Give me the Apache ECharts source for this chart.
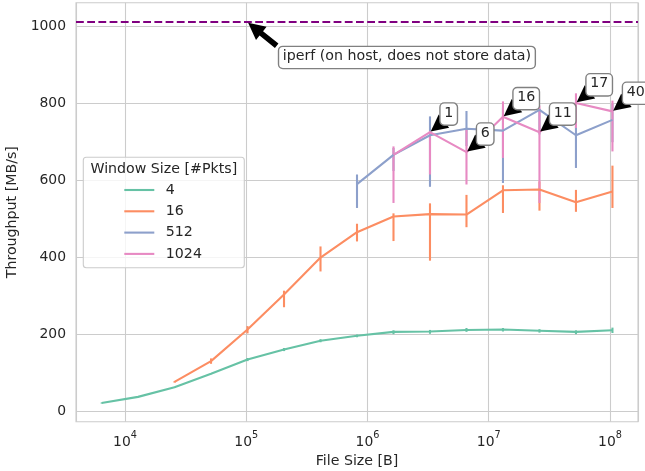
<!DOCTYPE html>
<html><head><meta charset="utf-8">
<script src="https://cdn.jsdelivr.net/npm/echarts@6/dist/echarts.min.js"></script>
<style>html,body{margin:0;padding:0;background:#fff}#c{width:645px;height:471px}</style>
</head><body><div id="c"></div>
<script>
// ---------------- data ----------------
const fileSizes = [6400, 12800, 25600, 51200, 102400, 204800, 409600, 819200, 1638400, 3276800, 6553600, 13107200, 26214400, 52428800, 104857600];

const win4Sizes = fileSizes.slice(0);
const win4Mean = [22, 38, 63, 98, 135, 161, 184, 197, 207, 208, 212, 213, 210, 207, 211];
const win4Lo   = [21, 37, 62, 97, 131, 157, 180, 193, 201, 202, 207, 208, 205, 201, 204];
const win4Hi   = [23, 39, 64, 99, 139, 165, 188, 200, 211, 212, 217, 217, 214, 211, 218];

const win16Sizes = fileSizes.slice(2);
const win16Mean = [77, 131, 213, 304, 400, 466, 507, 513, 512, 575, 577, 544, 572];
const win16Lo   = [75, 124, 203, 271, 364, 442, 443, 392, 479, 516, 522, 519, 529];
const win16Hi   = [79, 138, 222, 314, 429, 488, 515, 541, 563, 588, 598, 576, 639];

const win512Sizes = fileSizes.slice(7);
const win512Mean = [591, 667, 718, 735, 730, 784, 718, 758];
const win512Lo   = [529, 625, 584, 690, 594, 720, 633, 700];
const win512Hi   = [616, 685, 767, 781, 790, 787, 790, 800];

const win1024Sizes = fileSizes.slice(8);
const win1024Mean = [667, 726, 674, 766, 726, 802, 780];
const win1024Lo   = [542, 616, 590, 659, 542, 737, 676];
const win1024Hi   = [689, 729, 732, 806, 795, 827, 808];

const windowNames = ['4', '16', '512', '1024'];
const yTicks = [0, 200, 400, 600, 800, 1000];

const iperfThroughput = 1014;
const iperfText = 'iperf (on host, does not store data)';
const iperfArrowAt = [1e5, 1014];
const iperfTextAt = [2e5, 910];

const annotSizes = [3276800, 6553600, 13107200, 26214400, 52428800, 104857600];
const annotTexts = ['1', '6', '16', '11', '17', '40'];

// ---------------- style ----------------
const colors = ['#66c2a5', '#fc8d62', '#8da0cb', '#e78ac3'];
const FONT = '"DejaVu Sans", sans-serif';
const FS = 14.2;
const TXT = '#262626';
const GRIDC = '#cccccc';
const LW = 2.1;

function lineSeries(name, xs, ys, color) {
  return {
    type: 'line', name: name, data: xs.map((x, i) => [x, ys[i]]),
    symbol: 'none', showSymbol: false, smooth: false,
    lineStyle: {width: LW, color: color}, itemStyle: {color: color},
    emphasis: {disabled: true}, silent: true, z: 2
  };
}
function errSeries(name, xs, lo, hi, color) {
  return {
    type: 'custom', name: name, silent: true, z: 2,
    data: xs.map((x, i) => [x, lo[i], hi[i]]),
    encode: {x: 0, y: [1, 2]},
    renderItem: function (params, api) {
      const x = api.value(0);
      const a = api.coord([x, api.value(1)]);
      const b = api.coord([x, api.value(2)]);
      return {type: 'line', shape: {x1: a[0], y1: a[1], x2: b[0], y2: b[1]},
              style: {stroke: color, lineWidth: LW}};
    }
  };
}

const s4 = lineSeries(windowNames[0], win4Sizes, win4Mean, colors[0]);
s4.markLine = {
  silent: true, symbol: ['none', 'none'], label: {show: false},
  lineStyle: {color: '#800080', type: [7.8, 3.4], width: LW},
  emphasis: {disabled: true},
  data: [{yAxis: iperfThroughput}]
};

const option = {
  animation: false,
  backgroundColor: '#ffffff',
  textStyle: {fontFamily: FONT},
  grid: {left: 76, right: 7, top: 2.7, bottom: 49.3, show: true, containLabel: false,
         outerBoundsMode: 'none',
         borderColor: GRIDC, borderWidth: 1.1, backgroundColor: 'transparent'},
  xAxis: {
    type: 'log', logBase: 10,
    min: Math.pow(10, 3.59546), max: Math.pow(10, 8.23132),
    name: 'File Size [B]', nameLocation: 'middle', nameGap: 31,
    nameTextStyle: {color: TXT, fontSize: FS, fontFamily: FONT},
    axisLine: {show: false}, axisTick: {show: false},
    minorTick: {show: false}, minorSplitLine: {show: false},
    axisLabel: {
      color: TXT, fontSize: FS, fontFamily: FONT, margin: 8.6,
      formatter: function (v) {
        const l = Math.log10(v); const r = Math.round(l);
        return Math.abs(l - r) < 1e-6 ? '{b|10}{s|' + r + '}' : '';
      },
      rich: {
        b: {fontSize: 13.9, fontFamily: FONT, color: TXT, lineHeight: 19, verticalAlign: 'bottom'},
        s: {fontSize: 9.7, fontFamily: FONT, color: TXT, lineHeight: 19, verticalAlign: 'top'}
      }
    },
    splitLine: {show: true, lineStyle: {color: GRIDC, width: 1.1}}
  },
  yAxis: {
    type: 'value', min: -26.5, max: 1062.5,
    name: 'Throughput [MB/s]', nameLocation: 'middle', nameGap: 43,
    nameTextStyle: {color: TXT, fontSize: FS, fontFamily: FONT},
    axisLine: {show: false},
    axisTick: {show: false, customValues: yTicks},
    axisLabel: {color: TXT, fontSize: 13.9, fontFamily: FONT, margin: 10, customValues: yTicks,
                formatter: v => String(v)},
    splitLine: {show: true, lineStyle: {color: GRIDC, width: 1.1}}
  },
  legend: {
    data: windowNames.map(n => ({name: n, icon: 'rect'})),
    orient: 'vertical', left: 124.3, top: 183, padding: 0,
    itemWidth: 30, itemHeight: 2.1, itemGap: 7.3,
    selectedMode: false, z: 5,
    textStyle: {color: TXT, fontSize: FS, fontFamily: FONT, lineHeight: 14, padding: [0, 0, 0, 6.5]}
  },
  series: [
    s4,
    errSeries('e4', win4Sizes, win4Lo, win4Hi, colors[0]),
    lineSeries(windowNames[1], win16Sizes, win16Mean, colors[1]),
    errSeries('e16', win16Sizes, win16Lo, win16Hi, colors[1]),
    lineSeries(windowNames[2], win512Sizes, win512Mean, colors[2]),
    errSeries('e512', win512Sizes, win512Lo, win512Hi, colors[2]),
    lineSeries(windowNames[3], win1024Sizes, win1024Mean, colors[3]),
    errSeries('e1024', win1024Sizes, win1024Lo, win1024Hi, colors[3])
  ]
};

const chart = echarts.init(document.getElementById('c'), null, {renderer: 'canvas', width: 645, height: 471});
chart.setOption(option);

// ---------------- annotations (positions via the chart's own scales) ----------------
const toPx = (x, y) => chart.convertToPixel({xAxisIndex: 0, yAxisIndex: 0}, [x, y]);
const ctx = document.createElement('canvas').getContext('2d');
ctx.font = FS + 'px ' + FONT;
const PAD = 0.3 * FS, ASC = 0.76 * FS, DESC = 0.208 * FS;
const HEAD_L = 16.9, HEAD_W = 16.9, TAIL_W = 5.6;
const OFFSET = FS; // 10 points
const elements = [];

function annotate(text, xy, anchorPx) {
  const Q = toPx(xy[0], xy[1]);
  const w = ctx.measureText(text).width;
  const tx0 = anchorPx[0], tx1 = tx0 + w;
  const ty0 = anchorPx[1] - ASC, ty1 = anchorPx[1] + DESC;
  const bx0 = tx0 - PAD, bx1 = tx1 + PAD, by0 = ty0 - PAD, by1 = ty1 + PAD;
  const pick = (arr, v) => arr.reduce((b, c) => Math.abs(c - v) < Math.abs(b - v) ? c : b);
  const C = [pick([tx0, (tx0 + tx1) / 2, tx1], Q[0]), pick([ty0, (ty0 + ty1) / 2, ty1], Q[1])];
  const dx = Q[0] - C[0], dy = Q[1] - C[1];
  const r = Math.hypot(dx, dy);
  const u = [dx / r, dy / r];
  const tX = u[0] > 0 ? (bx1 - C[0]) / u[0] : (u[0] < 0 ? (bx0 - C[0]) / u[0] : Infinity);
  const tY = u[1] > 0 ? (by1 - C[1]) / u[1] : (u[1] < 0 ? (by0 - C[1]) / u[1] : Infinity);
  const tExit = Math.min(tX, tY);
  const shr = 0.05 * r;
  const S = [C[0] + u[0] * (tExit + shr), C[1] + u[1] * (tExit + shr)];
  const E = [Q[0] - u[0] * shr, Q[1] - u[1] * shr];
  const n = [-u[1], u[0]];
  const L = Math.hypot(E[0] - S[0], E[1] - S[1]);
  const N = [E[0] - u[0] * HEAD_L, E[1] - u[1] * HEAD_L];
  let pts;
  const hw = HEAD_W / 2, tw = TAIL_W / 2;
  if (L > HEAD_L) {
    pts = [[S[0] + n[0] * tw, S[1] + n[1] * tw], [N[0] + n[0] * tw, N[1] + n[1] * tw],
           [N[0] + n[0] * hw, N[1] + n[1] * hw], E,
           [N[0] - n[0] * hw, N[1] - n[1] * hw], [N[0] - n[0] * tw, N[1] - n[1] * tw],
           [S[0] - n[0] * tw, S[1] - n[1] * tw]];
  } else {
    pts = [[N[0] + n[0] * hw, N[1] + n[1] * hw], E, [N[0] - n[0] * hw, N[1] - n[1] * hw]];
  }
  elements.push({type: 'polygon', z: 10, silent: true, shape: {points: pts}, style: {fill: '#000000'}});
  elements.push({type: 'rect', z: 11, silent: true,
    shape: {x: bx0, y: by0, width: bx1 - bx0, height: by1 - by0, r: PAD},
    style: {fill: '#ffffff', stroke: '#808080', lineWidth: 1.39}});
  elements.push({type: 'text', z: 12, silent: true,
    style: {text: text, x: tx0, y: anchorPx[1] - 0.346 * FS, font: FS + 'px ' + FONT,
            fill: TXT, align: 'left', verticalAlign: 'middle'}});
}

// legend frame and title
elements.push({type: 'rect', z: 3, silent: true,
  shape: {x: 83.3, y: 157.3, width: 161, height: 110.4, r: 3},
  style: {fill: 'rgba(255,255,255,0.8)', stroke: GRIDC, lineWidth: 1.1}});
elements.push({type: 'text', z: 6, silent: true,
  style: {text: 'Window Size [#Pkts]', x: 163.8, y: 169.3, font: FS + 'px ' + FONT,
          fill: TXT, align: 'center', verticalAlign: 'middle'}});

annotate(iperfText, iperfArrowAt, toPx(iperfTextAt[0], iperfTextAt[1]));
annotSizes.forEach((sz, i) => {
  const k = win1024Sizes.indexOf(sz);
  const P = toPx(sz, win1024Mean[k]);
  annotate(annotTexts[i], [sz, win1024Mean[k]], [P[0] + OFFSET, P[1] - OFFSET]);
});

chart.setOption({graphic: {elements: elements}});
</script>
</body></html>
